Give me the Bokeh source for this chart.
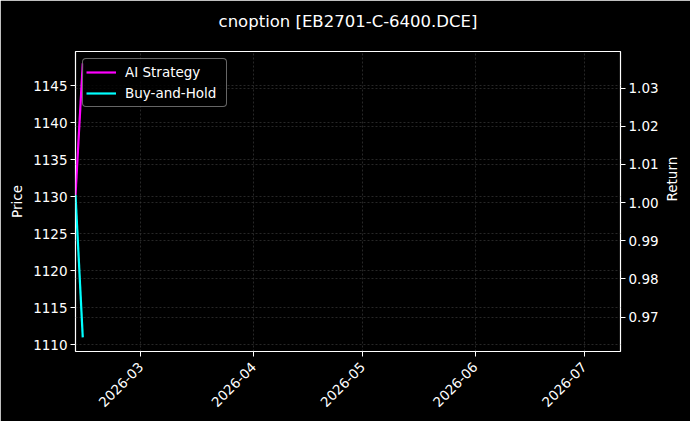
import math
import pandas as pd

from bokeh.plotting import figure
from bokeh.models import Range1d, LinearAxis, Grid, Legend, LegendItem, Title, \
    DatetimeTickFormatter, MonthsTicker, SingleIntervalTicker, NumeralTickFormatter
from bokeh.embed import file_html
from bokeh.resources import INLINE

# data
chart_title = "cnoption [EB2701-C-6400.DCE]"
dates = pd.to_datetime(["2026-02-11", "2026-02-13"])
ai_strategy = [1.002, 1.0365]
buy_and_hold = [1.002, 0.9647]
series_names = ["AI Strategy", "Buy-and-Hold"]
series_colors = ["#ff00ff", "#00ffff"]

date_lim = pd.to_datetime(["2026-02-11", "2026-07-11"])
price_lim = (1109.1, 1149.6)
return_lim = (0.9610, 1.0396)

FONT = "DejaVu Sans"
WHITE = "white"
GRID = "#383838"


def style_axis(ax):
    ax.axis_line_color = None
    ax.major_tick_line_color = WHITE
    ax.major_tick_out = 5
    ax.major_tick_in = 0
    ax.minor_tick_line_color = None
    ax.major_label_text_color = WHITE
    ax.major_label_text_font = FONT
    ax.major_label_text_font_size = "13.5px"
    ax.major_label_standoff = 3
    ax.axis_label_text_color = WHITE
    ax.axis_label_text_font = FONT
    ax.axis_label_text_font_size = "13.5px"
    ax.axis_label_text_font_style = "normal"


def main():
    p = figure(width=690, height=421,
               x_axis_type="datetime",
               x_range=Range1d(date_lim[0], date_lim[1]),
               y_range=Range1d(*price_lim),
               output_backend="svg",
               toolbar_location=None,
               background_fill_color="black",
               border_fill_color="black",
               outline_line_color=WHITE,
               outline_line_width=1.2,
               min_border_left=75, min_border_right=70,
               min_border_top=51, min_border_bottom=70)

    p.title.text = chart_title
    p.title.align = "center"
    p.title.text_color = WHITE
    p.title.text_font = FONT
    p.title.text_font_size = "16.5px"
    p.title.text_font_style = "normal"
    # empty title used as a spacer between the title and the frame
    p.add_layout(Title(text=" ", text_font_size="12px", standoff=0), "above")

    p.extra_y_ranges = {"ret": Range1d(*return_lim)}
    right = LinearAxis(y_range_name="ret", axis_label="Return",
                       ticker=SingleIntervalTicker(interval=0.01, num_minor_ticks=0),
                       formatter=NumeralTickFormatter(format="0.00"))
    p.add_layout(right, "right")

    p.yaxis[0].axis_label = "Price"
    p.yaxis[0].ticker = SingleIntervalTicker(interval=5, num_minor_ticks=0)
    p.xaxis.ticker = MonthsTicker(months=list(range(12)))
    fmt = "%Y-%m"
    p.xaxis.formatter = DatetimeTickFormatter(days=fmt, months=fmt, years=fmt)
    p.xaxis.major_label_orientation = math.pi / 4

    for ax in [p.xaxis[0], p.yaxis[0], right]:
        style_axis(ax)
    p.xaxis.major_label_standoff = 8
    right.axis_label_orientation = math.pi / 2
    right.axis_label_standoff = 10

    for g in p.grid:
        g.grid_line_color = GRID
        g.grid_line_dash = "2 2"
        g.grid_line_width = 0.7
    p.add_layout(Grid(dimension=1, ticker=right.ticker, y_range_name="ret",
                      grid_line_color=GRID, grid_line_dash="2 2", grid_line_width=0.7))

    items = []
    for name, vals, color in zip(series_names, [ai_strategy, buy_and_hold], series_colors):
        r = p.line(x=dates, y=vals, y_range_name="ret", color=color, line_width=2.2)
        items.append(LegendItem(label=name, renderers=[r]))

    legend = Legend(items=items, location="top_left")
    legend.margin = 7
    legend.padding = 3
    legend.spacing = 1
    legend.glyph_width = 30
    legend.glyph_height = 20
    legend.label_standoff = 9
    legend.label_width = 98
    legend.label_text_color = WHITE
    legend.label_text_font = FONT
    legend.label_text_font_size = "13.5px"
    legend.background_fill_color = "black"
    legend.background_fill_alpha = 0.8
    legend.border_line_color = "#cccccc"
    legend.border_line_width = 1
    legend.border_radius = 4
    p.add_layout(legend)

    open("out.html", "w").write(file_html(p, INLINE))


if __name__ == "__main__":
    main()
